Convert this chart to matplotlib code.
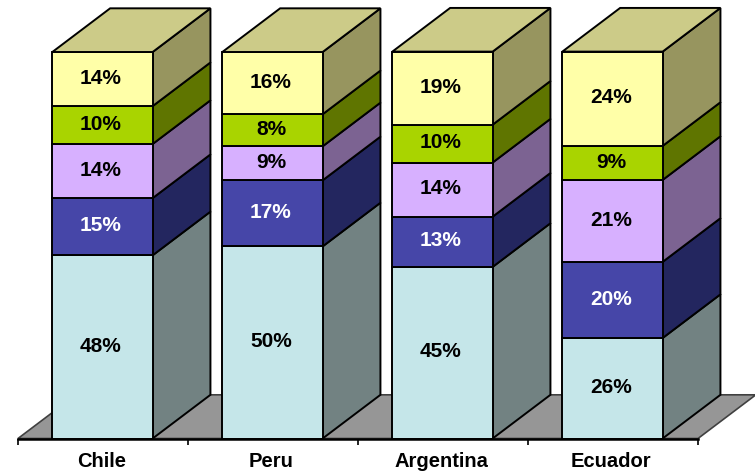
"""Stacked 3D style columns, drawn by hand since matplotlib has no 3D bar look like this"""

import numpy as np
import matplotlib.pyplot as plt
from matplotlib.patches import Polygon

countries = ["Chile", "Peru", "Argentina", "Ecuador"]

# heights of the segments, bottom to top
seg1 = [47.4, 49.7, 44.4, 26.0]
seg2 = [14.8, 17.1, 13.0, 19.7]
seg3 = [14.0, 8.8, 14.0, 21.2]
seg4 = [9.8, 8.3, 9.8, 8.8]
seg5 = [14.0, 16.1, 18.9, 24.4]

# what the labels say (does not always add up to 100)
labels1 = ["48%", "50%", "45%", "26%"]
labels2 = ["15%", "17%", "13%", "20%"]
labels3 = ["14%", "9%", "14%", "21%"]
labels4 = ["10%", "8%", "10%", "9%"]
labels5 = ["14%", "16%", "19%", "24%"]

FRONT = ["#C5E6E9", "#4646A8", "#D7B0FF", "#A9D400", "#FFFFA8"]
SIDE = ["#728282", "#23265F", "#7C6392", "#5F7500", "#97955F"]
TOP = "#CCCB88"
FLOOR = "#969696"
TEXT = ["black", "white", "black", "black", "black"]

WIDTH = 0.59  # bar width in category units
DX = 0.34  # depth offset, x
DY = 11.3  # depth offset, y

plt.rcParams["font.family"] = ["Liberation Sans", "DejaVu Sans"]

fig = plt.figure(figsize=(7.55, 4.72), dpi=100)
ax = fig.add_axes([18 / 755, (472 - 438.5) / 472, 680 / 755, 386.5 / 472])
ax.set_xlim(0, 4)
ax.set_ylim(0, 100)

# floor
ax.add_patch(Polygon([(0, 0), (4, 0), (4 + DX, DY), (DX, DY)], closed=True,
                     facecolor=FLOOR, edgecolor="#404040", lw=1.2,
                     clip_on=False, zorder=1))

segments = [seg1, seg2, seg3, seg4, seg5]
texts = [labels1, labels2, labels3, labels4, labels5]

for i in range(len(countries)):
    left = i + 0.5 - WIDTH / 2 - 0.003
    right = left + WIDTH
    bottom = 0
    for s in range(len(segments)):
        top = bottom + segments[s][i]
        ax.add_patch(Polygon([(right, bottom), (right + DX, bottom + DY),
                              (right + DX, top + DY), (right, top)], closed=True,
                             facecolor=SIDE[s], edgecolor="black", lw=1.4,
                             clip_on=False, zorder=2))
        ax.add_patch(Polygon([(left, bottom), (right, bottom), (right, top), (left, top)],
                             closed=True, facecolor=FRONT[s], edgecolor="black", lw=1.4,
                             clip_on=False, zorder=3))
        ax.text(i + 0.488, (bottom + top) / 2 + 0.2, texts[s][i], color=TEXT[s], fontsize=15,
                fontweight="bold", ha="center", va="center", zorder=4)
        bottom = top
    ax.add_patch(Polygon([(left, bottom), (right, bottom), (right + DX, bottom + DY),
                          (left + DX, bottom + DY)], closed=True,
                         facecolor=TOP, edgecolor="black", lw=1.4,
                         clip_on=False, zorder=3))

for name in ["top", "left", "right"]:
    ax.spines[name].set_visible(False)
ax.spines["bottom"].set_linewidth(1.8)
ax.spines["bottom"].set_zorder(5)
ax.patch.set_visible(False)

ax.set_yticks([])
ax.set_xticks(np.arange(5))
ax.set_xticklabels([])
ax.set_xticks(np.arange(4) + 0.49, minor=True)
ax.set_xticklabels(countries, minor=True, fontsize=14.5, fontweight="bold")
ax.tick_params(axis="x", which="major", length=4, width=1.2)
ax.tick_params(axis="x", which="minor", length=0, pad=10)

fig.savefig("out.png", dpi=100)
